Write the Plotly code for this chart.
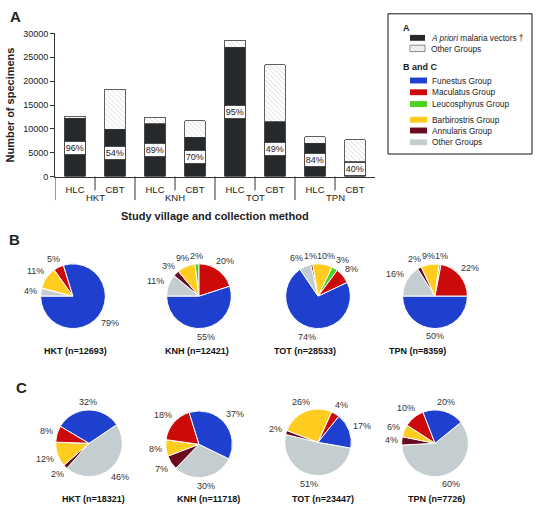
import math
import plotly.graph_objects as go

W, H = 540, 514
FONT = "Liberation Sans, Arial, sans-serif"
TXT = "#222222"

# ---------------- data ----------------
villages = ["HKT", "KNH", "TOT", "TPN"]
methods = ["HLC", "CBT"]
bar_totals = [12693, 18321, 12421, 11718, 28533, 23447, 8359, 7726]
vector_pct = [96, 54, 89, 70, 95, 49, 84, 40]
y_ticks = [0, 5000, 10000, 15000, 20000, 25000, 30000]

groups = ["Funestus Group", "Maculatus Group", "Leucosphyrus Group",
          "Barbirostris Group", "Annularis Group", "Other Groups"]
group_colors = ["#1f3fcf", "#cc0a0a", "#4fd21f", "#ffcc1f", "#6a0b1f", "#c4cdcf"]

pie_b_n = [12693, 12421, 28533, 8359]
pie_b_hkt = [79, 5, 0, 11, 0, 4]
pie_b_knh = [55, 20, 2, 9, 3, 11]
pie_b_tot = [74, 8, 3, 10, 1, 6]
pie_b_tpn = [50, 22, 1, 9, 2, 16]

pie_c_n = [18321, 11718, 23447, 7726]
pie_c_hkt = [32, 8, 0, 12, 2, 46]
pie_c_knh = [37, 18, 0, 8, 7, 30]
pie_c_tot = [17, 4, 0, 26, 2, 51]
pie_c_tpn = [20, 10, 0, 6, 4, 60]

# ---------------- helpers ----------------
def px(x):
    return x / W

def py(y):
    return 1 - y / H

fig = go.Figure()
annotations = []
shapes = []

def ann(x, y, text, size=9, bold=False, xref="paper", yref="paper", color=TXT,
        xanchor="center", yanchor="middle", **kw):
    annotations.append(dict(x=x, y=y, xref=xref, yref=yref, text=text,
                            showarrow=False, xanchor=xanchor, yanchor=yanchor,
                            font=dict(family=FONT, size=size, color=color,
                                      weight="bold" if bold else "normal"), **kw))

# ---------------- panel A: stacked bars ----------------
cats = [f"{v} {m}" for v in villages for m in methods]
vectors = [t * p / 100 for t, p in zip(bar_totals, vector_pct)]
others = [t - v for t, v in zip(bar_totals, vectors)]

fig.add_bar(x=cats, y=vectors, width=0.52, showlegend=False, hoverinfo="skip",
            marker=dict(color="#25292b", line=dict(color="#1a1a1a", width=0.8)))
fig.add_bar(x=cats, y=others, width=0.52, showlegend=False, hoverinfo="skip",
            marker=dict(color="white", line=dict(color="#3a3a3a", width=0.8),
                        pattern=dict(shape="\\", fgcolor="#a0a0a0", bgcolor="white",
                                     size=3.5, solidity=0.22)))

for c, v, p in zip(cats, vectors, vector_pct):
    ann(c, v / 2, f"{p}%", size=9, xref="x", yref="y", bgcolor="white",
        bordercolor="#333333", borderwidth=0.8, borderpad=1)

# axis extension and dividers
shapes.append(dict(type="line", xref="x", yref="paper", x0=-0.5, x1=-0.5,
                   y0=py(175), y1=py(199), line=dict(color="#333333", width=1)))
for k in range(len(villages)):
    shapes.append(dict(type="line", xref="x", yref="paper", x0=0.5 + 2 * k, x1=0.5 + 2 * k,
                       y0=py(175), y1=py(189), line=dict(color="#333333", width=1)))
    if k < len(villages) - 1:
        shapes.append(dict(type="line", xref="x", yref="paper", x0=1.5 + 2 * k, x1=1.5 + 2 * k,
                           y0=py(175), y1=py(199), line=dict(color="#333333", width=1)))
    ann(0.5 + 2 * k, py(196), villages[k], size=9.5, xref="x", color="#222222")

ann(px(215), py(215), "Study village and collection method", size=11, bold=True)
ann(px(15), py(12), "A", size=15, bold=True)
ann(px(14), py(239), "B", size=15, bold=True)
ann(px(21), py(390), "C", size=15, bold=True)

# ---------------- pies ----------------
def add_pie(values, cx, cy, r, start, title, lx, ly):
    total = sum(values)
    fig.add_trace(go.Pie(values=values[::-1], labels=groups[::-1],
                         marker=dict(colors=group_colors[::-1], line=dict(color="white", width=1)),
                         sort=False, direction="clockwise", rotation=start,
                         textinfo="none", hoverinfo="skip", showlegend=False,
                         domain=dict(x=[px(cx - r), px(cx + r)], y=[py(cy + r), py(cy - r)])))
    labs = []
    cum = 0
    for v in values:
        if v > 0:
            theta = math.radians(start - (cum + v / 2) * 360 / total)
            s, c = math.sin(theta), -math.cos(theta)
            text = f"{v}%"
            w = 5.0 * (len(text) - 1) + 8
            rl = r + 3 + abs(s) * w / 2 + abs(c) * 4.5
            labs.append([cx + rl * s, cy + rl * c, w, 9, text])
        cum += v
    # simple overlap resolution (horizontal push)
    for _ in range(20):
        moved = False
        for i in range(len(labs)):
            for j in range(i + 1, len(labs)):
                a, b = labs[i], labs[j]
                dx = b[0] - a[0]
                need = (a[2] + b[2]) / 2 + 0.5
                if abs(dx) < need and abs(b[1] - a[1]) < (a[3] + b[3]) / 2:
                    sh = (need - abs(dx)) / 2
                    sgn = 1 if dx >= 0 else -1
                    a[0] -= sgn * sh
                    b[0] += sgn * sh
                    moved = True
        if not moved:
            break
    for x, y, w, h, text in labs:
        ann(px(x), py(y), text, size=9, color="#333333")
    ann(px(lx), py(ly), title, size=9, bold=True, color="#111111")

b_sets = [pie_b_hkt, pie_b_knh, pie_b_tot, pie_b_tpn]
b_centers = [73, 199, 318, 435]
b_starts = [270, 270, 326, 270]
b_label_x = [75, 197, 305, 417]
for i in range(4):
    add_pie(b_sets[i], b_centers[i], 297, 33, b_starts[i],
            f"{villages[i]} (n={pie_b_n[i]})", b_label_x[i], 353)

c_sets = [pie_c_hkt, pie_c_knh, pie_c_tot, pie_c_tpn]
c_centers = [(89, 447), (199, 448), (318, 446), (435, 447)]
c_starts = [56, 116, 100, 51]
c_label_x = [93, 208, 323, 436]
for i in range(4):
    add_pie(c_sets[i], c_centers[i][0], c_centers[i][1], 34, c_starts[i],
            f"{villages[i]} (n={pie_c_n[i]})", c_label_x[i], 504)

# ---------------- legend box ----------------
LF = 8.3
shapes.append(dict(type="rect", xref="paper", yref="paper", x0=px(388), x1=px(532),
                   y0=py(152), y1=py(9), line=dict(color="#111111", width=1)))
ann(px(401), py(23), "A", size=9, bold=True, xanchor="left")
shapes.append(dict(type="rect", xref="paper", yref="paper", x0=px(410), x1=px(425),
                   y0=py(36.5), y1=py(30.5), fillcolor="#25292b", line=dict(width=0)))
ann(px(429), py(33.5), "<i>A priori</i> malaria vectors †", size=LF, xanchor="left")
shapes.append(dict(type="rect", xref="paper", yref="paper", x0=px(410), x1=px(425),
                   y0=py(47.5), y1=py(41), fillcolor="white", line=dict(color="#555555", width=0.7)))
for k in range(5):
    x0 = 410 + 3 * k
    x1 = min(x0 + 6, 425)
    shapes.append(dict(type="line", xref="paper", yref="paper", x0=px(x0), x1=px(x1),
                       y0=py(41), y1=py(41 + (x1 - x0)),
                       line=dict(color="#aaaaaa", width=0.6)))
ann(px(429), py(44.5), "Other Groups", size=LF, xanchor="left")
ann(px(401), py(63), "B and C", size=9, bold=True, xanchor="left")
legend_y = [77, 89, 101, 117, 128, 140]
for g, col, yy in zip(groups, group_colors, legend_y):
    shapes.append(dict(type="rect", xref="paper", yref="paper", x0=px(410), x1=px(427),
                       y0=py(yy + 3), y1=py(yy - 3), fillcolor=col, line=dict(width=0)))
    ann(px(430), py(yy), g, size=LF, xanchor="left")

# ---------------- layout ----------------
fig.update_layout(
    width=W, height=H, margin=dict(l=0, r=0, t=0, b=0),
    paper_bgcolor="white", plot_bgcolor="white",
    barmode="stack", bargap=0.48,
    font=dict(family=FONT, size=9, color=TXT),
    xaxis=dict(domain=[px(55), px(375)], type="category", categoryorder="array",
               categoryarray=cats, range=[-0.5, 7.5], tickvals=cats,
               ticktext=methods * len(villages), ticks="", showline=True,
               linecolor="#333333", linewidth=1, showgrid=False, zeroline=False,
               tickfont=dict(size=9.5, color=TXT), ticklabelstandoff=4, fixedrange=True),
    yaxis=dict(domain=[py(175), py(29)], range=[0, 30000], tickvals=y_ticks,
               tickformat="d", ticks="outside", ticklen=4, tickcolor="#333333",
               showline=True, linecolor="#333333", linewidth=1, showgrid=False,
               zeroline=False, tickfont=dict(size=9, color=TXT), fixedrange=True,
               title=dict(text="Number of specimens", standoff=6,
                          font=dict(size=11, weight="bold", color=TXT))),
    annotations=annotations, shapes=shapes,
)

fig.write_html("out.html", config={"displayModeBar": False, "staticPlot": True},
               post_script="document.body.style.margin='0px';document.body.style.padding='0px';")
